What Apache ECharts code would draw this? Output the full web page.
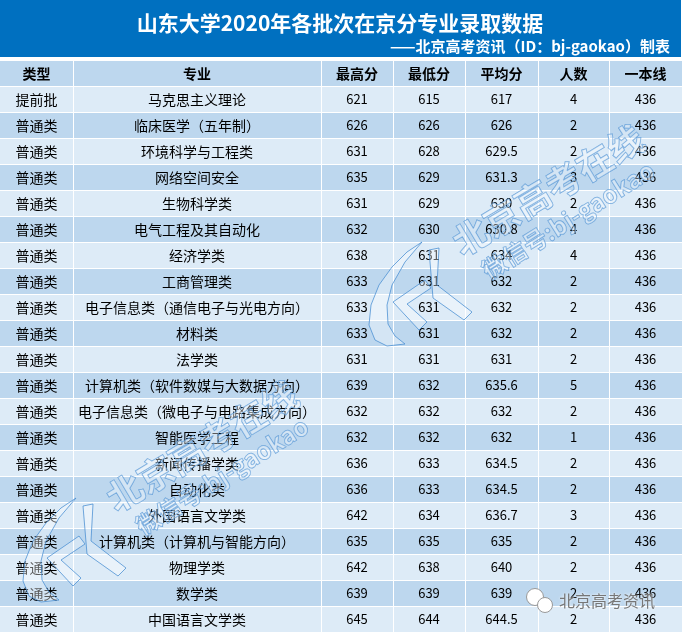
<!DOCTYPE html>
<html>
<head>
<meta charset="utf-8">
<script src="https://cdn.jsdelivr.net/npm/echarts@6/dist/echarts.min.js"></script>
<style>
  html, body { margin: 0; padding: 0; background: #fff; }
  #main { width: 682px; height: 633px; }
</style>
</head>
<body>
<div id="main"></div>
<script>
// table data
let headers = ['类型', '专业', '最高分', '最低分', '平均分', '人数', '一本线'];
let types = ['提前批', '普通类', '普通类', '普通类', '普通类', '普通类', '普通类', '普通类', '普通类', '普通类', '普通类',
  '普通类', '普通类', '普通类', '普通类', '普通类', '普通类', '普通类', '普通类', '普通类', '普通类'];
let majors = [
  '马克思主义理论', '临床医学（五年制）', '环境科学与工程类', '网络空间安全', '生物科学类',
  '电气工程及其自动化', '经济学类', '工商管理类', '电子信息类（通信电子与光电方向）', '材料类',
  '法学类', '计算机类（软件数媒与大数据方向）', '电子信息类（微电子与电路集成方向）', '智能医学工程', '新闻传播学类',
  '自动化类', '外国语言文学类', '计算机类（计算机与智能方向）', '物理学类', '数学类', '中国语言文学类'
];
let maxScore = [621, 626, 631, 635, 631, 632, 638, 633, 633, 633, 631, 639, 632, 632, 636, 636, 642, 635, 642, 639, 645];
let minScore = [615, 626, 628, 629, 629, 630, 631, 631, 631, 631, 631, 632, 632, 632, 633, 633, 634, 635, 638, 639, 644];
let avgScore = ['617', '626', '629.5', '631.3', '630', '630.8', '634', '632', '632', '632', '631', '635.6', '632', '632',
  '634.5', '634.5', '636.7', '635', '640', '639', '644.5'];
let counts = [4, 2, 2, 3, 2, 4, 4, 2, 2, 2, 2, 5, 2, 1, 2, 2, 3, 2, 2, 2, 2];
let lineScore = [436, 436, 436, 436, 436, 436, 436, 436, 436, 436, 436, 436, 436, 436, 436, 436, 436, 436, 436, 436, 436];

// layout
let colEdges = [0, 73, 321, 393, 465, 538, 609, 682];
let headColor = '#BDD7EE';
let lightColor = '#DDEBF7';
let darkColor = '#BDD7EE';
let font = '"Noto Sans CJK SC", sans-serif';

let rowNames = ['head'].concat(majors);
let cells = [];
headers.forEach(function (h, c) { cells.push({ value: [c, 0], text: h }); });
for (let i = 0; i < majors.length; i++) {
  let row = [types[i], majors[i], maxScore[i], minScore[i], avgScore[i], counts[i], lineScore[i]];
  row.forEach(function (t, c) { cells.push({ value: [c, i + 1], text: String(t) }); });
}

function renderCell(params, api) {
  let c = api.value(0), r = api.value(1);
  let p0 = api.coord([colEdges[c], r]);
  let p1 = api.coord([colEdges[c + 1], r]);
  let h = api.size([0, 1])[1];
  let x0 = p0[0] + (c > 0 ? 1 : 0);
  let y0 = p0[1] - h / 2 + 1;
  let fill = r === 0 ? headColor : (r % 2 === 1 ? lightColor : darkColor);
  let isNum = c >= 2 && r > 0;
  return {
    type: 'group',
    children: [
      { type: 'rect', shape: { x: x0, y: y0, width: p1[0] - x0, height: h - 1 }, style: { fill: fill } },
      {
        type: 'text',
        style: {
          x: (p0[0] + p1[0]) / 2, y: p0[1] + 0.5,
          text: cells[params.dataIndex].text,
          align: 'center', verticalAlign: 'middle',
          fontFamily: font, fontSize: isNum ? 13 : 14,
          fontWeight: r === 0 ? 'bold' : 'normal',
          fill: '#000'
        }
      }
    ]
  };
}

// watermark logo pieces (local coords)
let logoShapes = [
  [[55, 2], [40, 12], [25, 27], [12, 45], [4, 65], [2, 85], [8, 100], [20, 106], [38, 104],
   [28, 96], [21, 84], [20, 65], [25, 45], [38, 22]],
  [[26, 62], [58, 40], [64, 48], [40, 64], [60, 82], [52, 90]],
  [[62, 10], [72, 8], [70, 45], [105, 72], [97, 80], [66, 58]]
];
let wmFill = 'rgba(255,255,255,0.35)';
let wmStroke = 'rgba(70,140,210,0.75)';

function watermark(dx, dy) {
  let items = [];
  logoShapes.forEach(function (pts) {
    items.push({ type: 'polygon', x: 367 + dx, y: 240 + dy, z: 10,
      shape: { points: pts }, style: { fill: wmFill, stroke: wmStroke, lineWidth: 1 } });
  });
  items.push({
    type: 'text', x: 548 + dx, y: 190 + dy, rotation: 0.54, z: 10,
    style: { text: '北京高考在线', align: 'center', verticalAlign: 'middle', fontFamily: font, fontSize: 36, fontWeight: 'bold',
      fill: wmFill, stroke: wmStroke, lineWidth: 1 }
  });
  items.push({
    type: 'text', x: 568 + dx, y: 220 + dy, rotation: 0.56, z: 10,
    style: { text: '微信号:bj-gaokao', align: 'center', verticalAlign: 'middle', fontFamily: font, fontSize: 24, fontWeight: 'bold',
      fill: wmFill, stroke: wmStroke, lineWidth: 1 }
  });
  return items;
}

let myChart = echarts.init(document.getElementById('main'));

let option = {
  animation: false,
  grid: { left: 0, right: 0, top: 60, bottom: 1 },
  xAxis: { type: 'value', min: 0, max: 682, show: false },
  yAxis: { type: 'category', data: rowNames, inverse: true, show: false },
  graphic: [
    { type: 'rect', shape: { x: 0, y: 0, width: 681, height: 57 }, style: { fill: '#0070C0' } },
    { type: 'text', style: { x: 340, y: 23, text: '山东大学2020年各批次在京分专业录取数据', align: 'center', verticalAlign: 'middle',
      fontFamily: font, fontSize: 21, fontWeight: 'bold', fill: '#fff' } },
    { type: 'text', style: { x: 670, y: 46, text: '——北京高考资讯（ID：bj-gaokao）制表', align: 'right', verticalAlign: 'middle',
      fontFamily: font, fontSize: 15, fontWeight: 'bold', fill: '#fff' } }
  ].concat(watermark(0, 0), watermark(-346, 256), [
    { type: 'circle', shape: { cx: 535, cy: 597, r: 8.5 }, style: { fill: '#fff', stroke: '#999', lineWidth: 1 }, z: 10 },
    { type: 'circle', shape: { cx: 545, cy: 605, r: 7.5 }, style: { fill: '#fff', stroke: '#999', lineWidth: 1 }, z: 11 },
    { type: 'text', z: 11, style: { x: 559, y: 601, text: '北京高考资讯', align: 'left', verticalAlign: 'middle',
      fontFamily: font, fontSize: 16, fill: '#777', textShadowColor: '#fff', textShadowBlur: 3 } }
  ]),
  series: [{
    type: 'custom',
    renderItem: renderCell,
    data: cells.map(function (d) { return d.value; })
  }]
};

myChart.setOption(option);
</script>
</body>
</html>
